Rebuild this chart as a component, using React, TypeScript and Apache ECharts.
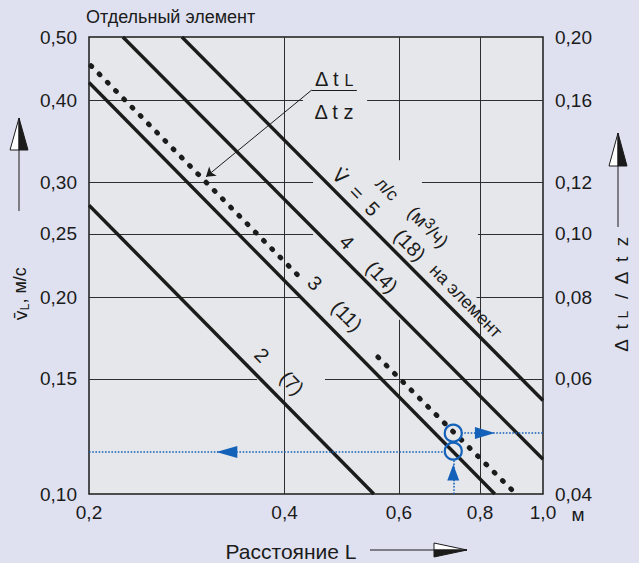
import React, { useEffect, useRef } from "react";
import * as echarts from "echarts";

// ---------- axis ticks ----------
const xTicks = [0.2, 0.4, 0.6, 0.8, 1.0];
const xTickLabels = ["0,2", "0,4", "0,6", "0,8", "1,0"];
const yLeftTicks = [0.1, 0.15, 0.2, 0.25, 0.3, 0.4, 0.5];
const yLeftLabels = ["0,10", "0,15", "0,20", "0,25", "0,30", "0,40", "0,50"];
const yRightTicks = [0.04, 0.06, 0.08, 0.1, 0.12, 0.16, 0.2];
const yRightLabels = ["0,04", "0,06", "0,08", "0,10", "0,12", "0,16", "0,20"];

// ---------- curves (L [m], v [m/s]) ----------
const line5 = [[0.278, 0.5], [1.0, 0.139]];
const line4 = [[0.2255, 0.5], [1.0, 0.113]];
const line3 = [[0.2, 0.426], [0.843, 0.1]];
const line2 = [[0.2, 0.2765], [0.549, 0.1]];
const dottedA = [[0.2014, 0.452], [0.4196, 0.216]];
const dottedB = [[0.557, 0.162], [0.897, 0.1013]];

// ---------- reading example (blue) ----------
const circles = [[0.7275, 0.1163], [0.7275, 0.1239]];
const readLeft = [[0.2, 0.1159], [0.705, 0.1159]];
const readRight = [[0.748, 0.124], [1.0, 0.124]];
const readUp = [[0.7275, 0.1], [0.7275, 0.113]];
const arrowLeft = [[0.326, 0.1159]];
const arrowRight = [[0.814, 0.124]];
const arrowUp = [[0.7275, 0.1079]];

// ---------- leader to dotted line ----------
const leader = [[0.4406, 0.4149], [0.3028, 0.3056]];
const fractionBar = [[0.4406, 0.4149], [0.5168, 0.4149]];

// ---------- grid lines (with gaps) ----------
// vertical: [L, vTop, vBottom]
const xGridSegments = [
  [0.4, 0.5, 0.1],
  [0.6, 0.5, 0.324],
  [0.6, 0.1847, 0.1],
  [0.8, 0.5, 0.1],
];
// horizontal: [v, Lstart, Lend]
const yGridSegments = [
  [0.4, 0.2, 0.427],
  [0.4, 0.536, 1.0],
  [0.3, 0.2, 0.4426],
  [0.3, 0.651, 1.0],
  [0.25, 0.2, 0.4426],
  [0.25, 0.794, 1.0],
  [0.2, 0.2, 0.4226],
  [0.2, 0.79, 1.0],
  [0.15, 0.2, 0.3629],
  [0.15, 0.4617, 1.0],
];

const FONT = "'Liberation Sans', Arial, Helvetica, sans-serif";
const DV = "'DejaVu Sans', 'Liberation Sans', sans-serif";
const BG = "#dfe1f0";
const PLOT = "#e6e7ea";
const INK = "#1b1b1b";
const BLUE = "#1461b9";
const ROT = (-45.6 * Math.PI) / 180;

const pick = (ticks: number[], labels: string[]) => (v: number) => {
  const i = ticks.findIndex((t) => Math.abs(t - v) / t < 1e-4);
  return i >= 0 ? labels[i] : "";
};

const rs = (size: number, extra: any = {}, fam = FONT) => ({
  fontSize: size,
  fontFamily: fam,
  font: `${size}px ${fam}`,
  fill: INK,
  ...extra,
});

function txt(x: number, y: number, text: string, fontSize: number, rotation = 0, extra: any = {}) {
  return {
    type: "text",
    x,
    y,
    rotation,
    z: 50,
    style: {
      text,
      ...rs(fontSize),
      align: "center",
      verticalAlign: "middle",
      textAlign: "center",
      textVerticalAlign: "middle",
      ...extra,
    },
  };
}

function upArrow(cx: number, tipY: number, baseY: number, half: number, shaftEnd: number) {
  return [
    { type: "line", z: 50, shape: { x1: cx, y1: baseY, x2: cx, y2: shaftEnd }, style: { stroke: INK, lineWidth: 1 } },
    { type: "polygon", z: 50, shape: { points: [[cx, tipY], [cx - half, baseY], [cx, baseY]] }, style: { fill: "#ffffff", stroke: INK, lineWidth: 1 } },
    { type: "polygon", z: 50, shape: { points: [[cx, tipY], [cx + half, baseY], [cx, baseY]] }, style: { fill: INK, stroke: INK, lineWidth: 1 } },
  ];
}

function buildOption() {
  const gridData = [
    ...xGridSegments.map(([x, a, b]) => ({ coords: [[x, a], [x, b]] })),
    ...yGridSegments.map(([y, a, b]) => ({ coords: [[a, y], [b, y]] })),
  ];
  const axisCommon = {
    type: "log",
    logBase: 10,
    axisLine: { show: false },
    axisTick: { show: false },
    splitLine: { show: false },
    minorTick: { show: false },
    minorSplitLine: { show: false },
  };
  const curve = (data: number[][]) => ({
    type: "line",
    data,
    symbol: "none",
    showSymbol: false,
    silent: true,
    z: 4,
    lineStyle: { color: INK, width: 3.4, cap: "butt" },
  });
  const dotted = (data: number[][]) => ({
    type: "line",
    data,
    symbol: "none",
    showSymbol: false,
    silent: true,
    z: 4,
    lineStyle: { color: INK, width: 5, type: [1, 10.7], cap: "round" },
  });
  const blueLines = (data: number[][][]) => ({
    type: "lines",
    coordinateSystem: "cartesian2d",
    polyline: false,
    silent: true,
    z: 5,
    data: data.map((c) => ({ coords: c })),
    lineStyle: { color: BLUE, width: 1.6, type: [1.6, 1.6], opacity: 1 },
  });
  const tri = (data: number[][], rot: number, size: number[]) => ({
    type: "scatter",
    data,
    symbol: "triangle",
    symbolSize: size,
    symbolRotate: rot,
    silent: true,
    z: 6,
    itemStyle: { color: BLUE, opacity: 1 },
  });

  return {
    animation: false,
    backgroundColor: BG,
    grid: {
      left: 89,
      right: 96,
      top: 37,
      bottom: 69,
      show: true,
      backgroundColor: PLOT,
      borderColor: INK,
      borderWidth: 1.5,
      containLabel: false,
      outerBoundsMode: "none",
    },
    xAxis: {
      ...axisCommon,
      min: 0.2,
      max: 1.0,
      axisLabel: {
        customValues: xTicks,
        formatter: pick(xTicks, xTickLabels),
        fontSize: 19,
        fontFamily: FONT,
        color: INK,
        margin: 9,
        hideOverlap: false,
      },
    },
    yAxis: [
      {
        ...axisCommon,
        position: "left",
        min: 0.1,
        max: 0.5,
        axisLabel: {
          customValues: yLeftTicks,
          formatter: pick(yLeftTicks, yLeftLabels),
          fontSize: 19,
          fontFamily: FONT,
          color: INK,
          margin: 12,
          padding: [8, 0, 0, 0],
          hideOverlap: false,
        },
      },
      {
        ...axisCommon,
        position: "right",
        min: 0.04,
        max: 0.2,
        axisLabel: {
          customValues: yRightTicks,
          formatter: pick(yRightTicks, yRightLabels),
          fontSize: 19,
          fontFamily: FONT,
          color: INK,
          margin: 12,
          padding: [6, 0, 0, 0],
          hideOverlap: false,
        },
      },
    ],
    series: [
      {
        type: "lines",
        coordinateSystem: "cartesian2d",
        polyline: false,
        silent: true,
        z: 1,
        data: gridData,
        lineStyle: { color: "#2e2e2e", width: 1, opacity: 1 },
      },
      curve(line5),
      curve(line4),
      curve(line3),
      curve(line2),
      dotted(dottedA),
      dotted(dottedB),
      {
        type: "lines",
        coordinateSystem: "cartesian2d",
        polyline: false,
        silent: true,
        z: 5,
        symbol: ["none", "arrow"],
        symbolSize: [6, 9],
        data: [{ coords: leader }],
        lineStyle: { color: INK, width: 1, opacity: 1 },
      },
      {
        type: "lines",
        coordinateSystem: "cartesian2d",
        polyline: false,
        silent: true,
        z: 5,
        data: [{ coords: fractionBar }],
        lineStyle: { color: INK, width: 1.2, opacity: 1 },
      },
      blueLines([readLeft, readRight, readUp]),
      {
        type: "scatter",
        data: circles,
        symbol: "circle",
        symbolSize: 17,
        silent: true,
        z: 6,
        itemStyle: { color: "rgba(0,0,0,0)", borderColor: BLUE, borderWidth: 2.2, opacity: 1 },
      },
      tri(arrowLeft, 90, [12, 21]),
      tri(arrowRight, -90, [12, 20]),
      tri(arrowUp, 0, [12, 16]),
    ],
    graphic: [
      txt(86, 17, "Отдельный элемент", 18, 0, { align: "left", textAlign: "left" }),
      txt(578, 514, "м", 19),
      // axis names
      txt(20, 294, "{v|v\u0304}{s|L}{a|, м/с}", 18, Math.PI / 2, {
        rich: { v: rs(18, {}, DV), a: rs(18), s: rs(12, { padding: [10, 0, 0, 0] }) },
      }),
      txt(621, 294, "{a|Δ  t }{s|L}{a|  /  Δ  t  z}", 19, Math.PI / 2, {
        rich: { a: rs(19), s: rs(14, { padding: [4, 0, 0, 0] }) },
      }),
      txt(291, 551, "Расстояние L", 21),
      ...upArrow(19, 118, 150, 9, 211),
      ...upArrow(618, 133, 166, 9, 227),
      { type: "line", z: 50, shape: { x1: 370, y1: 550, x2: 434, y2: 550 }, style: { stroke: INK, lineWidth: 1 } },
      { type: "polygon", z: 50, shape: { points: [[467, 550], [434, 543], [434, 550]] }, style: { fill: "#ffffff", stroke: INK, lineWidth: 1 } },
      { type: "polygon", z: 50, shape: { points: [[467, 550], [434, 557], [434, 550]] }, style: { fill: INK, stroke: INK, lineWidth: 1 } },
      // fraction label
      txt(334, 79, "{a|Δ t }{s|L}", 20, 0, { rich: { a: rs(20), s: rs(16, { padding: [3, 0, 0, 0] }) } }),
      txt(334, 112, "Δ t z", 20),
      // curve labels
      txt(356, 192, "{v|V\u0307}{a|  =  5}", 20, ROT, { rich: { v: rs(19, {}, DV), a: rs(20) } }),
      txt(387, 189, "л/с", 18, ROT),
      txt(428, 227, "{a|(м}{p|3}{a|/ч)}", 19, ROT, {
        rich: { a: rs(19), p: rs(15, { padding: [0, 0, 9, 0] }) },
      }),
      txt(410, 245, "(18)", 20, ROT),
      txt(466, 301, "на элемент", 18, ROT),
      txt(347, 242, "4", 20, ROT),
      txt(382, 277, "(14)", 20, ROT),
      txt(315, 283, "3", 20, ROT),
      txt(347, 316, "(11)", 20, ROT),
      txt(262, 355, "2", 20, ROT),
      txt(292, 383, "(7)", 20, ROT),
    ],
  };
}

export default function App() {
  const ref = useRef<HTMLDivElement>(null);
  useEffect(() => {
    document.body.style.margin = "0";
    document.body.style.background = BG;
    const chart = echarts.init(ref.current!, null, { renderer: "svg" });
    chart.setOption(buildOption() as any);
    return () => chart.dispose();
  }, []);
  return <div ref={ref} style={{ width: 639, height: 563 }} />;
}
